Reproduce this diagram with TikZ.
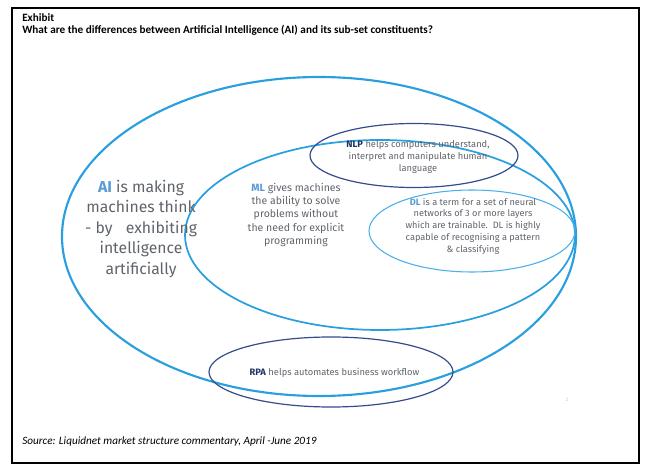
\documentclass[tikz,border=0pt]{standalone}
\usepackage{fontspec}
\setmainfont{Carlito}
\newfontfamily\dinfont{Fira Sans}
\usetikzlibrary{shapes.geometric}
\definecolor{aiblue}{HTML}{2A9FDF}
\definecolor{dlblue}{HTML}{4AB0E8}
\definecolor{ovalnavy}{HTML}{344C8C}
\definecolor{keyblue}{HTML}{5B9BD5}
\definecolor{keynavy}{HTML}{1F3366}
\definecolor{blurbgray}{HTML}{5F646B}

\begin{document}
\begin{tikzpicture}
[
    x=0.75pt, y=-0.75pt,
    oval/.style={ellipse, draw, inner sep=0pt},
    blurb/.style={align=center, text=blurbgray, inner sep=0pt},
    heading/.style={anchor=base west, inner sep=0pt},
]
\useasboundingbox (0,0) rectangle (654,474);
\draw[line width=0.9pt] (12,8) rectangle (639,463);
\node [heading, font=\bfseries\fontsize{8.4}{10}\selectfont] (exhibit) at (22,21.5) {Exhibit};
\node [heading, font=\bfseries\fontsize{8.4}{10}\selectfont] (question) at (22,33.5)
{What are the differences between Artificial Intelligence (AI) and its sub-set constituents?};
% the nested sets
\node [oval, aiblue, line width=1.6pt, minimum width=385.5pt, minimum height=239.25pt] (ai) at (319,236.5) {};
\node [oval, aiblue, line width=1.3pt, minimum width=292.5pt, minimum height=142.5pt] (ml) at (380,235) {};
\node [oval, ovalnavy, line width=0.9pt, minimum width=156pt, minimum height=48pt] (nlp) at (414,155.5) {};
\node [oval, dlblue, line width=0.8pt, minimum width=154.5pt, minimum height=61.5pt] (dl) at (472,231) {};
\node [oval, ovalnavy, line width=0.9pt, minimum width=183pt, minimum height=52.5pt] (rpa) at (331,372) {};
% what each one does
\node [blurb, font=\dinfont\fontsize{11.8}{15.4}\selectfont] (aitext) at (141,229)
{{\color{keyblue}\bfseries AI} is making\\machines think\\- by\hspace{10pt}exhibiting\\intelligence\\artificially};
\node [blurb, font=\dinfont\fontsize{7.9}{10.1}\selectfont] (mltext) at (296,215)
{{\color{keyblue}\bfseries ML} gives machines\\the ability to solve\\problems without\\the need for explicit\\programming};
\node [blurb, font=\dinfont\fontsize{7}{9}\selectfont] (nlptext) at (418,157)
{{\color{keynavy}\bfseries NLP} helps computers understand,\\interpret and manipulate human\\language};
\node [blurb, font=\dinfont\fontsize{6.9}{8.8}\selectfont] (dltext) at (473,226)
{{\color{keyblue}\bfseries DL} is a term for a set of neural\\networks of 3 or more layers\\which are trainable.\ \ DL is highly\\capable of recognising a pattern\\\& classifying};
\node [blurb, font=\dinfont\fontsize{7}{9}\selectfont] (rpatext) at (334.5,373)
{{\color{keynavy}\bfseries RPA} helps automates business workflow};
\node [text=black!20, inner sep=0pt, font=\dinfont\fontsize{4}{5}\selectfont] (pagenum) at (567,400) {2};
\node [heading, font=\itshape\fontsize{8.4}{10}\selectfont] (source) at (22,444)
{Source: Liquidnet market structure commentary, April -June 2019};
\end{tikzpicture}
\end{document}
